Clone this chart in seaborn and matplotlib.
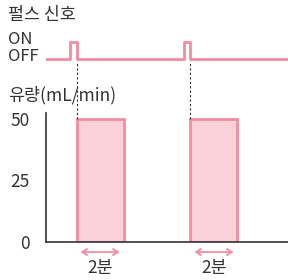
import seaborn as sns
import pandas as pd
import matplotlib
matplotlib.use('Agg')
from matplotlib import pyplot as plt

# data (minutes)
bar_start = [1.3, 6.15]
bar_len = [2, 2]
flow = [50, 50]
pulse_w = 0.28
x_end = 10.3
yticks = [0, 25, 50]
dur_labels = ['2분', '2분']

pink = '#f28ca1'
fill = '#fad1d8'
dark = '#333333'

sns.set_style('white')
plt.rcParams['font.family'] = ['Noto Sans CJK KR', 'DejaVu Sans']

W, H = 288, 280
fig = plt.figure(figsize=(W / 100, H / 100), dpi=100)

# bottom axes: flow
ax = fig.add_axes([46 / W, (H - 242) / H, (W - 46) / W, (242 - 113) / H])
# top axes: pulse
ax_p = fig.add_axes([46 / W, (H - 66) / H, (W - 46) / W, 30 / H], sharex=ax)

# pulse signal as a step series
px, py = [0], [0]
for s in bar_start:
    px += [s - pulse_w, s - pulse_w, s, s]
    py += [0, 1, 1, 0]
px.append(x_end)
py.append(0)
pulse = pd.DataFrame({'t': px, 'v': py})
sns.lineplot(data=pulse, x='t', y='v', ax=ax_p, color=pink, lw=2,
             sort=False, estimator=None)
ax_p.set_ylim(-0.4, 1.35)
ax_p.axis('off')

# flow bars
ax.bar(bar_start, flow, width=bar_len, align='edge', color=fill,
       edgecolor=pink, linewidth=2, zorder=2)
ax.set_xlim(0, x_end)
ax.set_ylim(0, 52.4)
ax.set_yticks(yticks)
ax.set_yticklabels([str(v) for v in yticks], fontsize=12.5, color=dark)
ax.tick_params(axis='y', length=0, pad=12)
ax.set_xticks([])
ax.set_xlabel('')
ax.set_ylabel('')
sns.despine(ax=ax)
for sp in ['left', 'bottom']:
    ax.spines[sp].set_color(dark)
    ax.spines[sp].set_linewidth(1.2)

# dashed connectors from pulse to bar top
for s, f in zip(bar_start, flow):
    ax.plot([s, s], [f, 73.5], ls=(0, (2, 2)), color=dark, lw=0.8,
            clip_on=False, zorder=3)

# duration arrows + labels
for s, d, lab in zip(bar_start, bar_len, dur_labels):
    ax.annotate('', xy=(s + 0.05, -0.078), xytext=(s + d - 0.05, -0.078),
                xycoords=('data', 'axes fraction'),
                arrowprops=dict(arrowstyle='<->,head_length=0.35,head_width=0.22',
                                color=pink, lw=1.3))
    ax.text(s + d / 2, -0.2, lab, transform=ax.get_xaxis_transform(),
            ha='center', va='center', fontsize=12.5, color=dark)

# text labels
fig.text(8 / W, 1 - 15 / H, '펄스 신호', fontsize=12.5, color=dark, va='center')
fig.text(8 / W, 1 - 39 / H, 'ON', fontsize=12, color=dark, va='center')
fig.text(8 / W, 1 - 57 / H, 'OFF', fontsize=12, color=dark, va='center')
fig.text(8 / W, 1 - 95 / H, '유량(mL/min)', fontsize=12.5, color=dark, va='center')

fig.savefig('out.png', dpi=100)
